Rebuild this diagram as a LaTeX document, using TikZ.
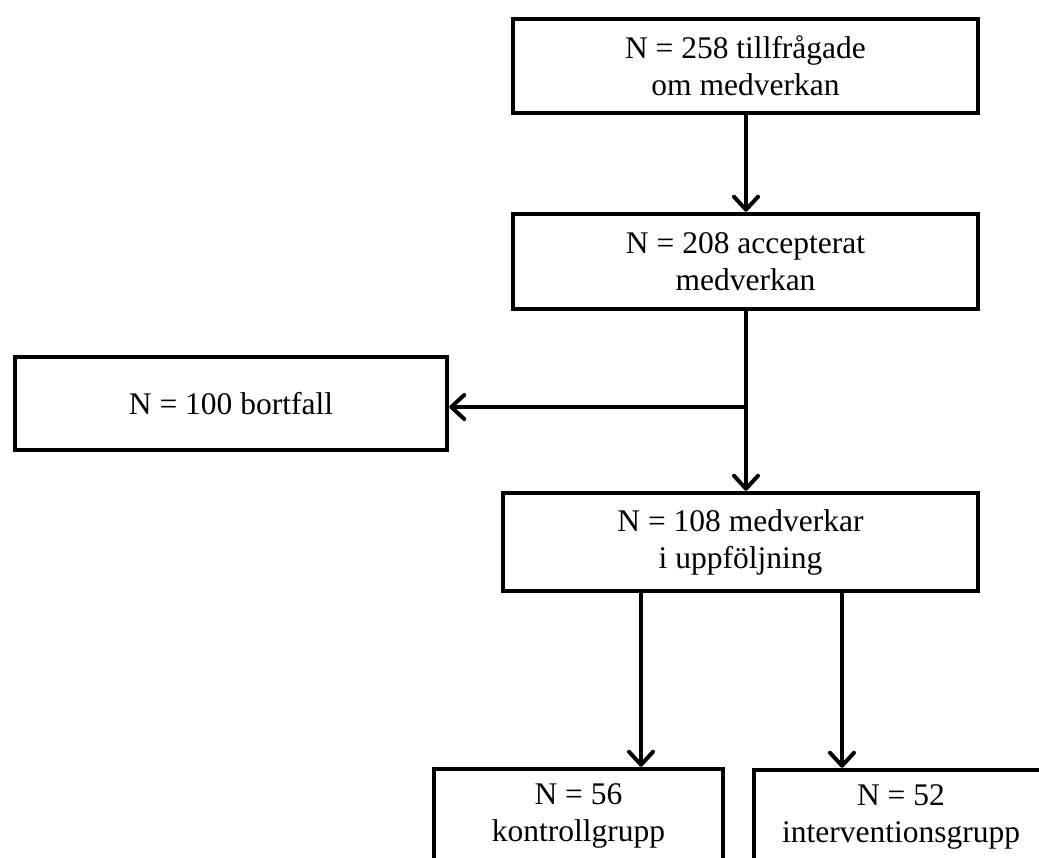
\documentclass[tikz,border=0pt]{standalone}
\usepackage{fontspec}
\setmainfont{Liberation Serif}
\usetikzlibrary{arrows.meta,calc}
\begin{document}
\begin{tikzpicture}[x=1pt,y=-1pt,
  box/.style={draw=black,line width=4.5pt,fill=white,inner sep=0pt,align=center,
    font=\fontsize{31.5}{37}\selectfont},
  arr/.style={line width=4pt,-{Straight Barb[length=13pt,width=24pt,line cap=round,line join=round]}},
  conn/.style={line width=4pt}]
\clip (0,0) rectangle (1039,858);
\fill[white] (0,0) rectangle (1039,858);
\node[box,minimum width=465pt,minimum height=94pt] (b1) at (745.5,66) {N = 258 tillfrågade\\om medverkan};
\node[box,minimum width=465pt,minimum height=95pt] (b2) at (745.5,261.5) {N = 208 accepterat\\medverkan};
\node[box,minimum width=432pt,minimum height=93pt] (drop) at (231,403.5) {N = 100 bortfall};
\node[box,minimum width=475pt,minimum height=98pt] (b3) at (740.5,542) {N = 108 medverkar\\i uppföljning};
\node[box,minimum width=289pt,minimum height=94pt] (b4) at (578.5,816) {N = 56\\kontrollgrupp};
\node[box,minimum width=294pt,minimum height=94pt] (b5) at (901,817) {N = 52\\interventionsgrupp};
\coordinate (m) at (746,0);
\coordinate (br) at (746,407);
\coordinate (cl) at (641,0);
\coordinate (cr) at (842,0);
\draw[arr] (b1.south -| m) -- (b2.north -| m);
\draw[arr] (b2.south -| m) -- (b3.north -| m);
\draw[arr] (br) -- (br -| drop.east);
\draw[arr] (b3.south -| cl) -- (b4.north -| cl);
\draw[arr] (b3.south -| cr) -- (b5.north -| cr);
\end{tikzpicture}
\end{document}
